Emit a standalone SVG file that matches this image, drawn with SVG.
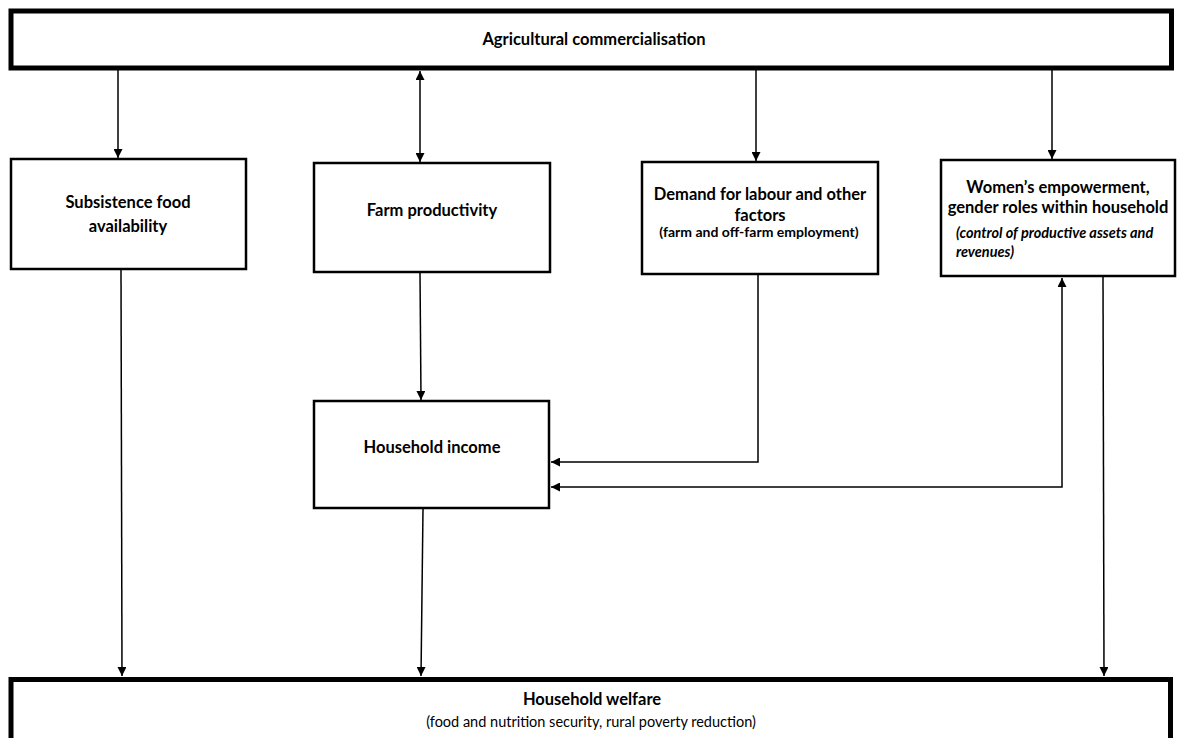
<svg xmlns="http://www.w3.org/2000/svg" width="1183" height="738" viewBox="0 0 1183 738">
<style>
.big{fill:#fff;stroke:#000;stroke-width:5}
.box{fill:#fff;stroke:#000;stroke-width:2.5}
.t{font-family:Lato,"Liberation Sans",sans-serif;font-weight:bold;font-size:16.5px;fill:#000;text-anchor:middle}
.s{font-family:Lato,"Liberation Sans",sans-serif;font-weight:bold;font-size:14px;fill:#000;text-anchor:middle}
.i{font-family:Lato,"Liberation Sans",sans-serif;font-weight:bold;font-style:italic;font-size:14.5px;fill:#000}
.w{font-family:Lato,"Liberation Sans",sans-serif;font-size:14.5px;fill:#000;text-anchor:middle}
.c{fill:none;stroke:#000;stroke-width:1.5}
</style>
<defs>
<marker id="ah" markerUnits="userSpaceOnUse" markerWidth="9" markerHeight="9" refX="8" refY="4" orient="auto-start-reverse" viewBox="0 0 8 8">
<path d="M0,0 L8,4 L0,8 z" fill="#000"/>
</marker>
</defs>
<rect width="1183" height="738" fill="#fff"/>
<g id="connectors">
<line class="c" x1="118" y1="70" x2="118" y2="158" marker-end="url(#ah)"/>
<line class="c" x1="420" y1="71" x2="420" y2="162" marker-start="url(#ah)" marker-end="url(#ah)"/>
<line class="c" x1="756" y1="70" x2="756" y2="161" marker-end="url(#ah)"/>
<line class="c" x1="1052" y1="70" x2="1052" y2="159" marker-end="url(#ah)"/>
<line class="c" x1="121" y1="270" x2="122" y2="676" marker-end="url(#ah)"/>
<line class="c" x1="420" y1="273" x2="421" y2="400" marker-end="url(#ah)"/>
<polyline class="c" points="758,275 758,462 551,462" marker-end="url(#ah)"/>
<polyline class="c" points="551,487 1062,487 1062,278" marker-start="url(#ah)" marker-end="url(#ah)"/>
<line class="c" x1="423" y1="509" x2="421" y2="676" marker-end="url(#ah)"/>
<line class="c" x1="1103" y1="277" x2="1104" y2="676" marker-end="url(#ah)"/>
</g>
<g id="agri">
<rect class="big" x="11" y="11" width="1160.5" height="57"/>
<text class="t" x="594" y="45">Agricultural commercialisation</text>
</g>
<g id="subsistence">
<rect class="box" x="11" y="159" width="235" height="110"/>
<text class="t" x="128" y="208">Subsistence food</text>
<text class="t" x="128" y="232">availability</text>
</g>
<g id="farm">
<rect class="box" x="314" y="163" width="236" height="109"/>
<text class="t" x="432" y="216">Farm productivity</text>
</g>
<g id="demand">
<rect class="box" x="642" y="162" width="236" height="112"/>
<text class="t" x="760" y="200">Demand for labour and other</text>
<text class="t" x="760" y="221">factors</text>
<text class="s" x="759" y="237">(farm and off-farm employment)</text>
</g>
<g id="women">
<rect class="box" x="941" y="160" width="234" height="116"/>
<text class="t" x="1058" y="193">Women’s empowerment,</text>
<text class="t" x="1058" y="213">gender roles within household</text>
<text class="i" x="956" y="238">(control of productive assets and</text>
<text class="i" x="956" y="257">revenues)</text>
</g>
<g id="income">
<rect class="box" x="314" y="401" width="235" height="107"/>
<text class="t" x="432" y="453">Household income</text>
</g>
<g id="welfare">
<rect class="big" x="11" y="679.5" width="1159.5" height="80"/>
<text class="t" x="592" y="705">Household welfare</text>
<text class="w" x="591" y="727">(food and nutrition security, rural poverty reduction)</text>
</g>
</svg>
